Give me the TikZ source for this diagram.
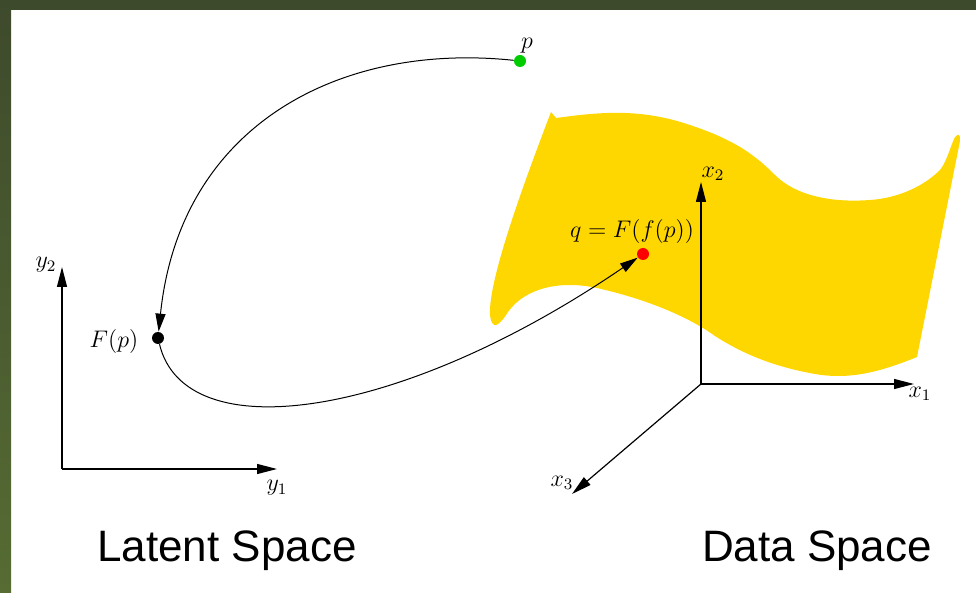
\documentclass[tikz,border=0pt]{standalone}
\usepackage{fontspec}
\setsansfont{Liberation Sans}
\usetikzlibrary{arrows.meta}
\definecolor{mFrame}{HTML}{3E4A2C}
\definecolor{mFrameLow}{HTML}{566C33}
\definecolor{mGold}{HTML}{FFD700}
\definecolor{mGreen}{HTML}{00CC00}
\definecolor{mRed}{HTML}{FF0000}
\tikzset{
  >={Triangle[length=10pt,width=5pt]},
  dot/.style      ={circle,inner sep=0pt,minimum size=6pt},
  axis/.style     ={->,line width=0.6pt},
  maplink/.style  ={-{Triangle[length=9pt,width=5pt]},line width=0.5pt},
  spacelabel/.style={font=\sffamily\fontsize{22}{26}\selectfont},
}

\begin{document}
\begin{tikzpicture}[x=0.5pt,y=-0.5pt,font=\large]
  \useasboundingbox (0,0) rectangle (976,593);
  % frame
  \fill[mFrame] (0,0) rectangle (976,10);
  \shade[top color=mFrame,bottom color=mFrameLow] (0,0) rectangle (11,593);

  % manifold in data space
  \fill[mGold] (551,112) -- (556,118)
    .. controls (600,112) and (640,108) .. (690,125)
    .. controls (735,140) and (755,155) .. (775,175)
    .. controls (795,195) and (830,203) .. (870,200)
    .. controls (900,198) and (925,185) .. (940,170)
    .. controls (948,160) and (952,140) .. (956,136)
    .. controls (960,132) and (961,138) .. (959,146) -- (917,357)
    .. controls (880,372) and (850,380) .. (815,374)
    .. controls (770,366) and (740,352) .. (715,336)
    .. controls (690,318) and (650,300) .. (597,288)
    .. controls (560,280) and (525,288) .. (508,312)
    .. controls (500,325) and (492,332) .. (490,315)
    .. controls (488,280) and (525,180) .. (551,112) -- cycle;

  % latent axes
  \coordinate (yo) at (62,469);
  \coordinate (y1end) at (277,469);
  \coordinate (y2end) at (62,267);
  \draw[axis] (yo) -- (y1end);
  \draw[axis] (yo) -- (y2end);
  \node (y1lab) at (277,488) {$y_1$};
  \node (y2lab) at (46,265) {$y_2$};

  % data axes
  \coordinate (xo) at (701,384);
  \coordinate (x1end) at (914,384);
  \coordinate (x2end) at (701,182);
  \coordinate (x3end) at (572,494);
  \draw[axis] (xo) -- (x1end);
  \draw[axis] (xo) -- (x2end);
  \draw[axis] (xo) -- (x3end);
  \node (x1lab) at (920,394) {$x_1$};
  \node (x2lab) at (713,174) {$x_2$};
  \node (x3lab) at (562,483) {$x_3$};

  % points
  \node[dot,fill=mGreen] (p) at (520,61) {};
  \node[dot,fill=black] (Fp) at (158,338) {};
  \node[dot,fill=mRed] (q) at (643,254) {};
  \node (plab) at (527,46) {$p$};
  \node (Fplab) at (114,342) {$F(p)$};
  \node (qlab) at (632,232) {$q=F(f(p))$};

  % maps
  \draw[maplink] (p) .. controls (340,42) and (180,125) .. (Fp);
  \draw[maplink] (Fp) .. controls (185,450) and (400,420) .. (q);

  % space names
  \node[spacelabel] (latent) at (227,551) {Latent Space};
  \node[spacelabel] (data) at (817,551) {Data Space};
\end{tikzpicture}
\end{document}
